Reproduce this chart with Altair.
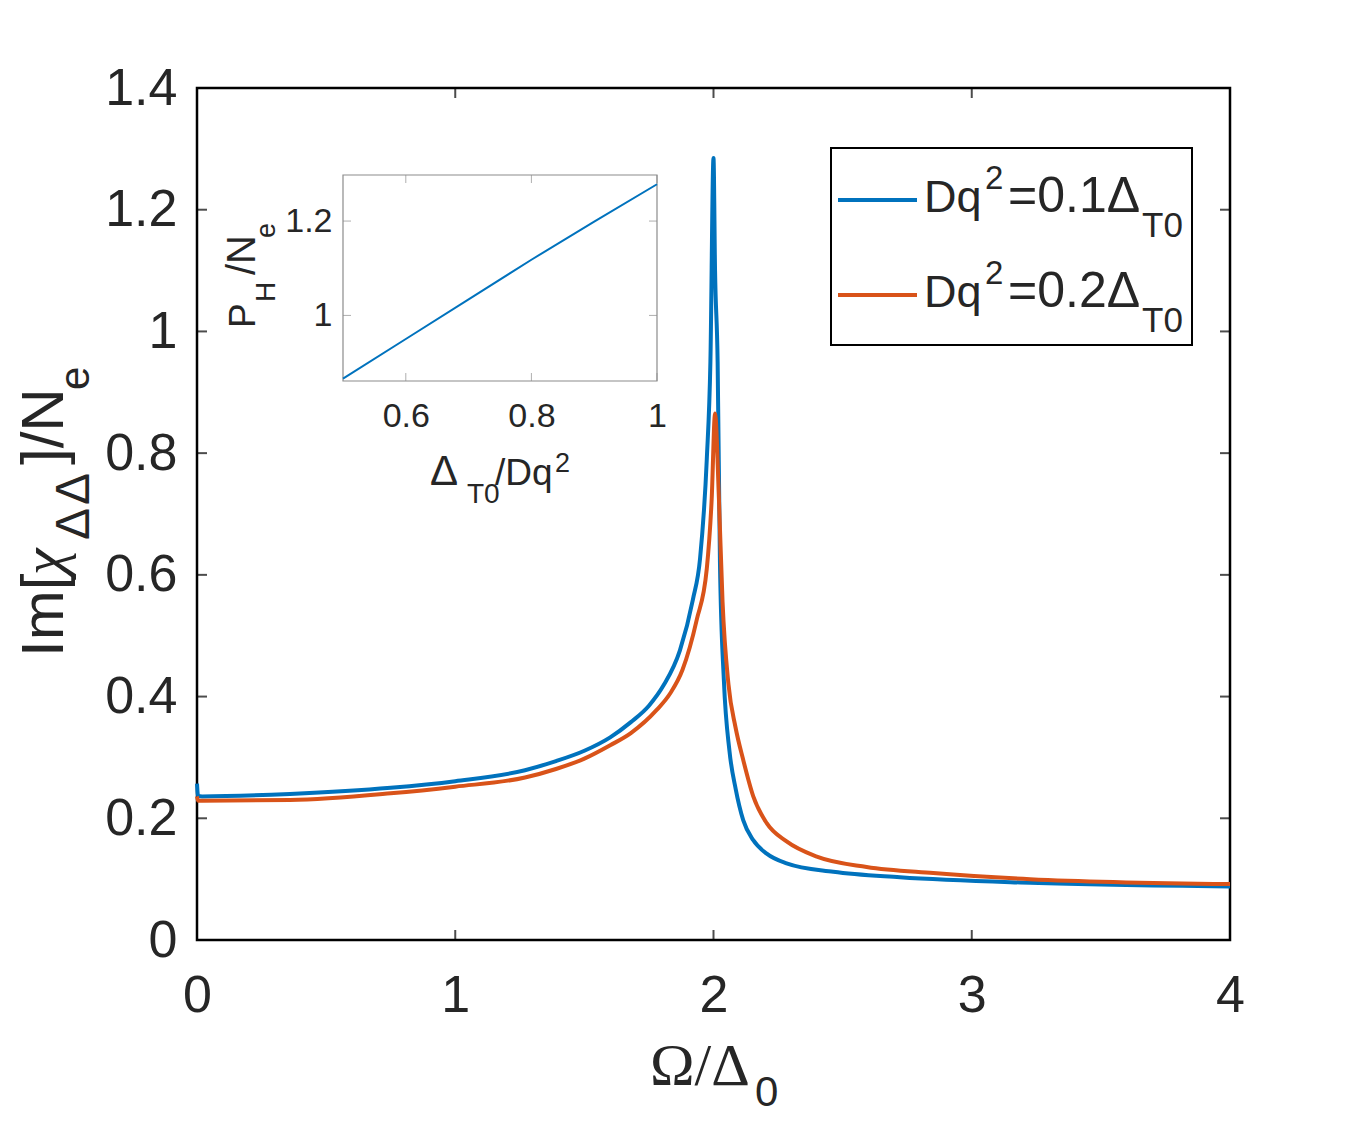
import altair as alt
import pandas as pd

# ---------------- data ----------------
BLUE_X = [0.0, 0.004, 0.02, 0.36, 0.75, 1.0, 1.27, 1.39, 1.5, 1.6, 1.68, 1.75, 1.806, 1.87,
          1.92, 1.948, 1.974, 1.988, 2.0, 2.006, 2.016, 2.025, 2.04, 2.062, 2.086, 2.115,
          2.154, 2.206, 2.283, 2.464, 2.722, 3.226, 4.0]
BLUE_Y = [0.257, 0.237, 0.236, 0.240, 0.250, 0.261, 0.279, 0.294, 0.311, 0.333, 0.358,
          0.385, 0.418, 0.476, 0.559, 0.627, 0.79, 0.95, 1.285, 1.10, 0.95, 0.62, 0.428,
          0.31, 0.248, 0.197, 0.164, 0.142, 0.126, 0.112, 0.103, 0.094, 0.088]
RED_X = [0.0, 0.004, 0.02, 0.36, 0.75, 1.0, 1.27, 1.39, 1.5, 1.6, 1.68, 1.78, 1.832, 1.88,
         1.935, 1.974, 1.993, 2.006, 2.021, 2.035, 2.058, 2.085, 2.115, 2.154, 2.206, 2.283,
         2.40, 2.593, 2.851, 3.226, 4.0]
RED_Y = [0.236, 0.229, 0.229, 0.230, 0.241, 0.252, 0.267, 0.281, 0.298, 0.320, 0.340, 0.378,
         0.405, 0.444, 0.526, 0.61, 0.725, 0.865, 0.725, 0.556, 0.42, 0.35, 0.296, 0.236,
         0.192, 0.162, 0.137, 0.120, 0.110, 0.100, 0.092]
SERIES = ["0.1", "0.2"]

X_TICKS = [0, 1, 2, 3, 4]
Y_TICKS = [0, 0.2, 0.4, 0.6, 0.8, 1.0, 1.2, 1.4]
X_DOMAIN = [0, 4]
Y_DOMAIN = [0, 1.4]

INSET_X = [0.5, 0.6, 0.7, 0.8, 0.9, 1.0]
INSET_Y = [0.866, 0.950, 1.034, 1.118, 1.199, 1.278]
INSET_X_TICKS = [0.6, 0.8, 1.0]
INSET_Y_TICKS = [1.0, 1.2]
INSET_X_DOMAIN = [0.5, 1.0]
INSET_Y_DOMAIN = [0.861, 1.2976]

# ---------------- styling ----------------
BLUE = "#0072BD"
RED = "#D95319"
TXT = "#262626"
SANS = "Liberation Sans"
SERIF = "Liberation Serif"
W, H = 1033, 852
INSET_RX = [146, 460]
INSET_RY = [293, 87]
IGRAY = "#8c8c8c"

df = pd.concat([
    pd.DataFrame({"x": BLUE_X, "y": BLUE_Y, "series": SERIES[0]}),
    pd.DataFrame({"x": RED_X, "y": RED_Y, "series": SERIES[1]}),
])
inset_df = pd.DataFrame({"x": INSET_X, "y": INSET_Y})


def mscale_x():
    return alt.Scale(domain=X_DOMAIN, nice=False, zero=False)


def mscale_y():
    return alt.Scale(domain=Y_DOMAIN, nice=False, zero=False)


def iscale_x():
    return alt.Scale(domain=INSET_X_DOMAIN, range=INSET_RX, nice=False, zero=False)


def iscale_y():
    return alt.Scale(domain=INSET_Y_DOMAIN, range=INSET_RY, nice=False, zero=False)


lines = alt.Chart(df).mark_line(strokeWidth=4, interpolate="monotone").encode(
    x=alt.X("x:Q", scale=mscale_x(),
            axis=alt.Axis(values=X_TICKS, format="~g", ticks=False, domain=False, grid=False,
                          labelFontSize=52, labelFont=SANS, labelColor=TXT, labelPadding=30,
                          labelFlush=False, labelOverlap=False, title=None)),
    y=alt.Y("y:Q", scale=mscale_y(),
            axis=alt.Axis(values=Y_TICKS, format="~g", ticks=False, domain=False, grid=False,
                          labelFontSize=52, labelFont=SANS, labelColor=TXT, labelPadding=20,
                          labelFlush=False, labelOverlap=False, title=None)),
    color=alt.Color("series:N", scale=alt.Scale(domain=SERIES, range=[BLUE, RED]), legend=None),
)


def tick_layer(values, fixed, along, orient, size, xoff, yoff, sx, sy, color, thick):
    if along == "x":
        d = pd.DataFrame({"x": values, "y": [fixed] * len(values)})
    else:
        d = pd.DataFrame({"x": [fixed] * len(values), "y": values})
    return alt.Chart(d).mark_tick(orient=orient, size=size, thickness=thick,
                                  xOffset=xoff, yOffset=yoff, color=color).encode(
        x=alt.X("x:Q", scale=sx, axis=None),
        y=alt.Y("y:Q", scale=sy, axis=None),
    )


main_ticks = [
    tick_layer(X_TICKS, Y_DOMAIN[0], "x", "vertical", 10, 0, -5, mscale_x(), mscale_y(), "black", 2),
    tick_layer(X_TICKS, Y_DOMAIN[1], "x", "vertical", 10, 0, 5, mscale_x(), mscale_y(), "black", 2),
    tick_layer(Y_TICKS, X_DOMAIN[0], "y", "horizontal", 10, 5, 0, mscale_x(), mscale_y(), "black", 2),
    tick_layer(Y_TICKS, X_DOMAIN[1], "y", "horizontal", 10, -5, 0, mscale_x(), mscale_y(), "black", 2),
]

ONE = alt.Data(values=[{"a": 1}])


def txt(s, x, y, size, font=SANS, angle=0, style="normal"):
    return alt.Chart(ONE).mark_text(
        text=s, fontSize=size, font=font, angle=angle, align="left",
        baseline="alphabetic", color=TXT, fontStyle=style,
    ).encode(x=alt.value(x), y=alt.value(y))


# axis titles (plot-area pixel coordinates; origin at plot top-left)
titles = [
    txt("Ω/Δ", 453, 997, 60, SERIF),
    txt("0", 558, 1018, 42),
    txt("Im[", -134, 569, 60, angle=270),
    txt("χ", -134, 487, 60, SERIF, angle=270, style="italic"),
    txt("Δ", -108, 452, 48, angle=270),
    txt("Δ", -108, 417, 48, angle=270),
    txt("]/N", -134, 377, 60, angle=270),
    txt("e", -108, 302, 42, angle=270),
]

# legend box
legend_box = alt.Chart(ONE).mark_rect(fill="white", stroke="black", strokeWidth=2).encode(
    x=alt.value(634), x2=alt.value(995), y=alt.value(60), y2=alt.value(257))
legend_items = []
for i, (val, col) in enumerate(zip(SERIES, [BLUE, RED])):
    dy = i * 95
    legend_items.append(
        alt.Chart(ONE).mark_rule(color=col, strokeWidth=4).encode(
            x=alt.value(641), x2=alt.value(720), y=alt.value(112 + dy)))
    legend_items += [
        txt("Dq", 727, 124 + dy, 45),
        txt("2", 788, 101 + dy, 33),
        txt("=" + val + "Δ", 811, 124 + dy, 50),
        txt("T0", 945, 149 + dy, 35),
    ]

# inset
inset_box = alt.Chart(pd.DataFrame({"x": [INSET_X_DOMAIN[0]], "x2": [INSET_X_DOMAIN[1]],
                                    "y": [INSET_Y_DOMAIN[0]], "y2": [INSET_Y_DOMAIN[1]]})
                      ).mark_rect(fill="white", stroke=IGRAY, strokeWidth=1.2).encode(
    x=alt.X("x:Q", scale=iscale_x(), axis=None), x2="x2:Q",
    y=alt.Y("y:Q", scale=iscale_y(), axis=None), y2="y2:Q")

inset_line = alt.Chart(inset_df).mark_line(color=BLUE, strokeWidth=2).encode(
    x=alt.X("x:Q", scale=iscale_x(),
            axis=alt.Axis(orient="bottom", offset=-(H - INSET_RY[0]), values=INSET_X_TICKS,
                          format="~g", ticks=False, domain=False, grid=False, labelFontSize=34,
                          labelFont=SANS, labelColor=TXT, labelPadding=18, labelFlush=False,
                          labelOverlap=False, title=None)),
    y=alt.Y("y:Q", scale=iscale_y(),
            axis=alt.Axis(orient="left", offset=-INSET_RX[0], values=INSET_Y_TICKS,
                          format="~g", ticks=False, domain=False, grid=False, labelFontSize=34,
                          labelFont=SANS, labelColor=TXT, labelPadding=11, labelFlush=False,
                          labelOverlap=False, title=None)),
)

inset_ticks = [
    tick_layer(INSET_X_TICKS, INSET_Y_DOMAIN[0], "x", "vertical", 8, 0, -4, iscale_x(), iscale_y(), IGRAY, 1),
    tick_layer(INSET_X_TICKS, INSET_Y_DOMAIN[1], "x", "vertical", 8, 0, 4, iscale_x(), iscale_y(), IGRAY, 1),
    tick_layer(INSET_Y_TICKS, INSET_X_DOMAIN[0], "y", "horizontal", 8, 4, 0, iscale_x(), iscale_y(), IGRAY, 1),
    tick_layer(INSET_Y_TICKS, INSET_X_DOMAIN[1], "y", "horizontal", 8, -4, 0, iscale_x(), iscale_y(), IGRAY, 1),
]

inset_titles = [
    txt("Δ", 233, 397, 42),
    txt("T0", 270, 415, 28),
    txt("/Dq", 298, 397, 37),
    txt("2", 358, 384, 27),
    txt("P", 58, 240, 37, angle=270),
    txt("H", 78, 214, 28, angle=270),
    txt("/N", 58, 187, 40, angle=270),
    txt("e", 78, 150, 27, angle=270),
]

chart = alt.layer(
    lines, *main_ticks, *titles, legend_box, *legend_items,
    inset_box, inset_line, *inset_ticks, *inset_titles,
).resolve_scale(x="independent", y="independent").properties(
    width=W, height=H,
    autosize=alt.AutoSizeParams(type="none"),
    padding={"left": 189, "top": 80, "right": 120, "bottom": 176},
).configure_view(stroke="black", strokeWidth=2.5)

chart.save("out.html", embed_options={"renderer": "svg", "actions": False})
